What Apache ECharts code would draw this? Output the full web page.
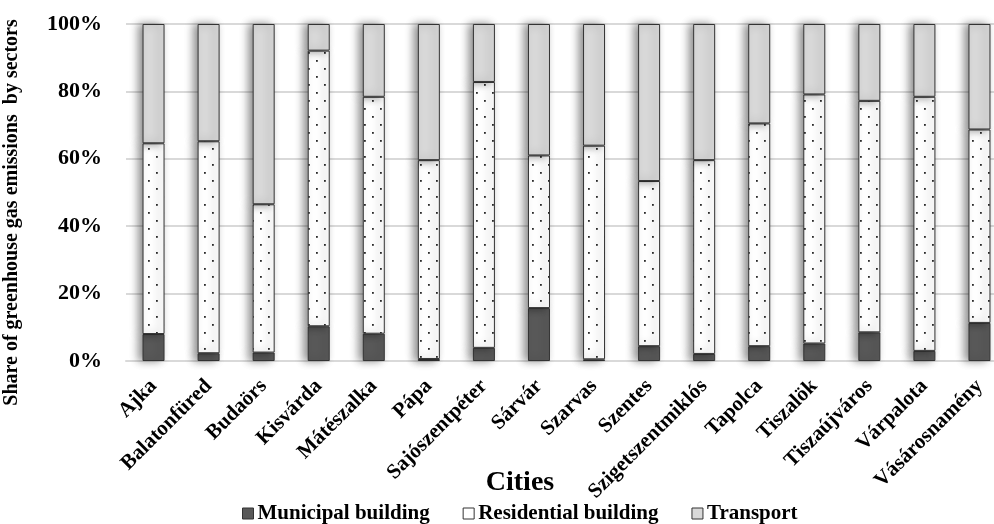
<!DOCTYPE html>
<html>
<head>
<meta charset="utf-8">
<script src="https://cdn.jsdelivr.net/npm/echarts@6/dist/echarts.min.js"></script>
<style>html,body{margin:0;padding:0;background:#fff}#c{width:994px;height:524px}</style>
</head>
<body>
<div id="c"></div>
<script>
var cities = ["Ajka","Balatonfüred","Budaörs","Kisvárda","Mátészalka","Pápa","Sajószentpéter","Sárvár","Szarvas","Szentes","Szigetszentmiklós","Tapolca","Tiszalök","Tiszaújváros","Várpalota","Vásárosnamény"];
var municipal   = [8.0, 2.3, 2.5, 10.3, 8.1, 0.6, 3.9, 15.7, 0.5, 4.4, 2.1, 4.4, 5.2, 8.5, 3.0, 11.3];
var residential = [56.6, 62.9, 44.0, 81.8, 70.3, 59.0, 78.9, 45.3, 63.4, 49.0, 57.5, 66.1, 73.9, 68.7, 75.4, 57.4];
var transport   = [35.4, 34.8, 53.5, 7.9, 21.6, 40.4, 17.2, 39.0, 36.1, 46.6, 40.4, 29.5, 20.9, 22.8, 21.6, 31.3];
var yTicks = [0, 20, 40, 60, 80, 100];

var FONT = '"Liberation Serif","Times New Roman",serif';

// dotted fill pattern for residential
var pc = document.createElement('canvas');
pc.width = 16; pc.height = 16;
var pctx = pc.getContext('2d');
pctx.fillStyle = '#ffffff'; pctx.fillRect(0,0,16,16);
pctx.fillStyle = '#2b2b2b';
pctx.fillRect(4,4,1.8,1.8);
pctx.fillRect(12,12,1.8,1.8);

var chart = echarts.init(document.getElementById('c'), null, {renderer:'canvas'});
var shadow = {shadowColor:'rgba(0,0,0,0.45)', shadowBlur:8, shadowOffsetX:-4, shadowOffsetY:0};
function mk(name, data, color) {
  return {
    name: name, type: 'bar', stack: 'total', data: data, barWidth: 22,
    itemStyle: Object.assign({color: color, borderColor: '#333', borderWidth: 1}, shadow),
    emphasis: {disabled: true}
  };
}
var option = {
  animation: false,
  backgroundColor: '#fff',
  title: {
    text: 'Cities', left: 520, top: 469, textAlign: 'center', padding: 0,
    textStyle: {fontFamily: FONT, fontSize: 28, fontWeight: 'bold', color: '#000'}
  },
  legend: {
    left: 242, top: 503, padding: 0, itemWidth: 11, itemHeight: 11, itemGap: 33, icon: 'rect',
    textStyle: {fontFamily: FONT, fontSize: 21, fontWeight: 'bold', color: '#000', padding:[0,0,0,-1]},
    data: [
      {name:'Municipal building', itemStyle:{color:'#595959', borderColor:'#333', borderWidth:1, shadowBlur:0}},
      {name:'Residential building', itemStyle:{color:'#fff', borderColor:'#333', borderWidth:1, shadowBlur:0}},
      {name:'Transport', itemStyle:{color:'#d9d9d9', borderColor:'#333', borderWidth:1, shadowBlur:0}}
    ]
  },
  grid: {left: 126, top: 24, width: 881, height: 337, outerBoundsMode: 'none', containLabel: false},
  xAxis: {
    type: 'category', data: cities,
    axisLine: {lineStyle: {color: '#d9d9d9', width: 2}},
    axisTick: {show: false},
    axisLabel: {rotate: 45, interval: 0, margin: 22, fontFamily: FONT, fontSize: 21, fontWeight: 'bold', color: '#000'}
  },
  yAxis: {
    type: 'value', min: 0, max: 100, interval: 20,
    name: 'Share of greenhouse gas emissions  by sectors',
    nameLocation: 'middle', nameRotate: 90, nameGap: 104,
    nameTextStyle: {fontFamily: FONT, fontSize: 20, fontWeight: 'bold', color: '#000', padding: [0, 40, 0, 0]},
    axisLine: {show: false}, axisTick: {show: false},
    splitLine: {lineStyle: {color: '#d9d9d9', width: 2}},
    axisLabel: {formatter: '{value}%', margin: 24, fontFamily: FONT, fontSize: 22, fontWeight: 'bold', color: '#000'}
  },
  series: [
    mk('Municipal building', municipal, '#595959'),
    mk('Residential building', residential, {image: pc, repeat: 'repeat'}),
    mk('Transport', transport, '#d9d9d9')
  ]
};
chart.setOption(option);
</script>
</body>
</html>
